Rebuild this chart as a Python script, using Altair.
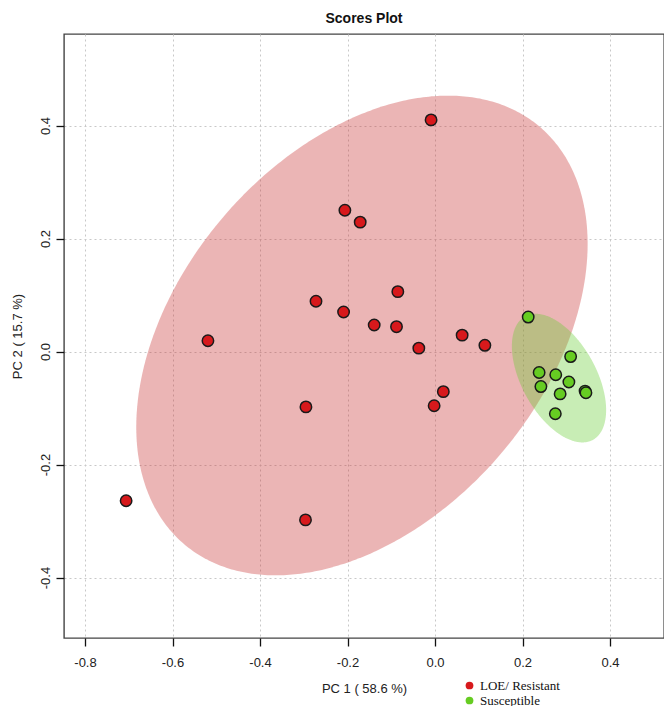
import altair as alt
import numpy as np
import pandas as pd

# ---- data ----
groups = ["LOE/ Resistant", "Susceptible"]
point_colors = ["#D7191C", "#66CC22"]
ellipse_colors = ["#C83232", "#66CC33"]

pc1_resistant = [-0.009, -0.206, -0.171, -0.272, -0.209, -0.085, -0.139, -0.088, -0.037,
                 0.062, 0.114, -0.519, 0.019, -0.002, -0.295, -0.706, -0.296]
pc2_resistant = [0.410, 0.250, 0.229, 0.089, 0.070, 0.106, 0.047, 0.044, 0.006,
                 0.029, 0.011, 0.019, -0.071, -0.096, -0.098, -0.264, -0.298]
pc1_susceptible = [0.213, 0.310, 0.238, 0.276, 0.306, 0.242, 0.286, 0.343, 0.345, 0.275]
pc2_susceptible = [0.061, -0.009, -0.037, -0.041, -0.054, -0.062, -0.075, -0.070, -0.073, -0.110]

x_ticks = [-0.8, -0.6, -0.4, -0.2, 0.0, 0.2, 0.4]
y_ticks = [-0.4, -0.2, 0.0, 0.2, 0.4]
x_domain = [-0.848, 0.5234]
y_domain = [-0.507, 0.562]

title_text = "Scores Plot"
x_title = "PC 1 ( 58.6 %)"
y_title = "PC 2 ( 15.7 %)"

# ---- tables ----
pts = pd.DataFrame({
    "pc1": pc1_resistant + pc1_susceptible,
    "pc2": pc2_resistant + pc2_susceptible,
    "group": [groups[0]] * len(pc1_resistant) + [groups[1]] * len(pc1_susceptible),
})


def ellipse_band(xs, ys, chi2=5.991, n=241):
    """95% confidence ellipse of the group's scores, as lower/upper boundaries."""
    p = np.column_stack([xs, ys])
    c = p.mean(axis=0)
    S = np.cov(p, rowvar=False)
    Si = np.linalg.inv(S)
    a, b, d = Si[0, 0], Si[0, 1], Si[1, 1]
    dxmax = np.sqrt(chi2 * S[0, 0])
    th = np.linspace(0, np.pi, n)
    dx = dxmax * np.cos(th)
    disc = np.clip(b * b * dx * dx - d * (a * dx * dx - chi2), 0, None)
    lo = (-b * dx - np.sqrt(disc)) / d
    hi = (-b * dx + np.sqrt(disc)) / d
    return c[0] + dx, c[1] + lo, c[1] + hi


frames = []
for g, xs, ys in [(groups[0], pc1_resistant, pc2_resistant),
                  (groups[1], pc1_susceptible, pc2_susceptible)]:
    ex, lo, hi = ellipse_band(xs, ys)
    frames.append(pd.DataFrame({"pc1": ex, "lo": lo, "hi": hi, "group": g}))
ell = pd.concat(frames, ignore_index=True)

xscale = alt.Scale(domain=x_domain, nice=False, zero=False)
yscale = alt.Scale(domain=y_domain, nice=False, zero=False)

label_expr = "replace(format(datum.value, '.1f'), '\u2212', '-')"

x_axis = alt.Axis(values=x_ticks, labelExpr=label_expr, title=x_title,
                  grid=True, gridDash=[2, 3], gridColor="#C8C8C8", gridWidth=1,
                  domain=False, tickSize=8, tickColor="#111", tickWidth=1.3,
                  labelPadding=10, labelFontSize=13, labelColor="#222",
                  labelFont="Liberation Sans", titleFont="Liberation Sans",
                  titleFontSize=13, titleFontWeight="normal", titleColor="#222",
                  titlePadding=13)
y_axis = alt.Axis(values=y_ticks, labelExpr=label_expr, title=y_title,
                  grid=True, gridDash=[2, 3], gridColor="#C8C8C8", gridWidth=1,
                  domain=False, tickSize=8, tickColor="#111", tickWidth=1.3,
                  labelAngle=270, labelAlign="center", labelBaseline="bottom",
                  labelPadding=4, labelFontSize=13, labelColor="#222",
                  labelFont="Liberation Sans", titleFont="Liberation Sans",
                  titleFontSize=13, titleFontWeight="normal", titleColor="#222",
                  titlePadding=15)

ellipses = alt.Chart(ell).mark_area(fillOpacity=0.36, strokeWidth=0).encode(
    x=alt.X("pc1:Q", scale=xscale, axis=x_axis),
    y=alt.Y("lo:Q", scale=yscale, axis=y_axis),
    y2="hi:Q",
    fill=alt.Fill("group:N", scale=alt.Scale(domain=groups, range=ellipse_colors), legend=None),
    detail="group:N",
)

points = alt.Chart(pts).mark_point(filled=True, shape="circle", size=130,
                                   stroke="#1A1A1A", strokeWidth=1.5, opacity=1).encode(
    x=alt.X("pc1:Q", scale=xscale),
    y=alt.Y("pc2:Q", scale=yscale),
    fill=alt.Fill("group:N", scale=alt.Scale(domain=groups, range=point_colors),
                  legend=alt.Legend(title=None, orient="none", legendX=399, legendY=645,
                                    symbolType="circle", symbolSize=60,
                                    symbolStrokeWidth=0, symbolStrokeColor="transparent",
                                    labelFont="Liberation Serif", labelFontSize=13,
                                    labelColor="#111", rowPadding=1)),
)

chart = alt.layer(ellipses, points).resolve_scale(fill="independent").properties(
    width=600, height=604,
    title=alt.Title(title_text, fontSize=14, fontWeight="bold", font="Liberation Sans",
                    anchor="middle", offset=8, color="#111"),
    autosize=alt.AutoSizeParams(type="none"),
    padding={"left": 56, "top": 26, "right": 0, "bottom": 68},
).configure_view(stroke="#444", strokeWidth=1.4)

chart.save("out.html", embed_options={"renderer": "svg", "actions": False})
